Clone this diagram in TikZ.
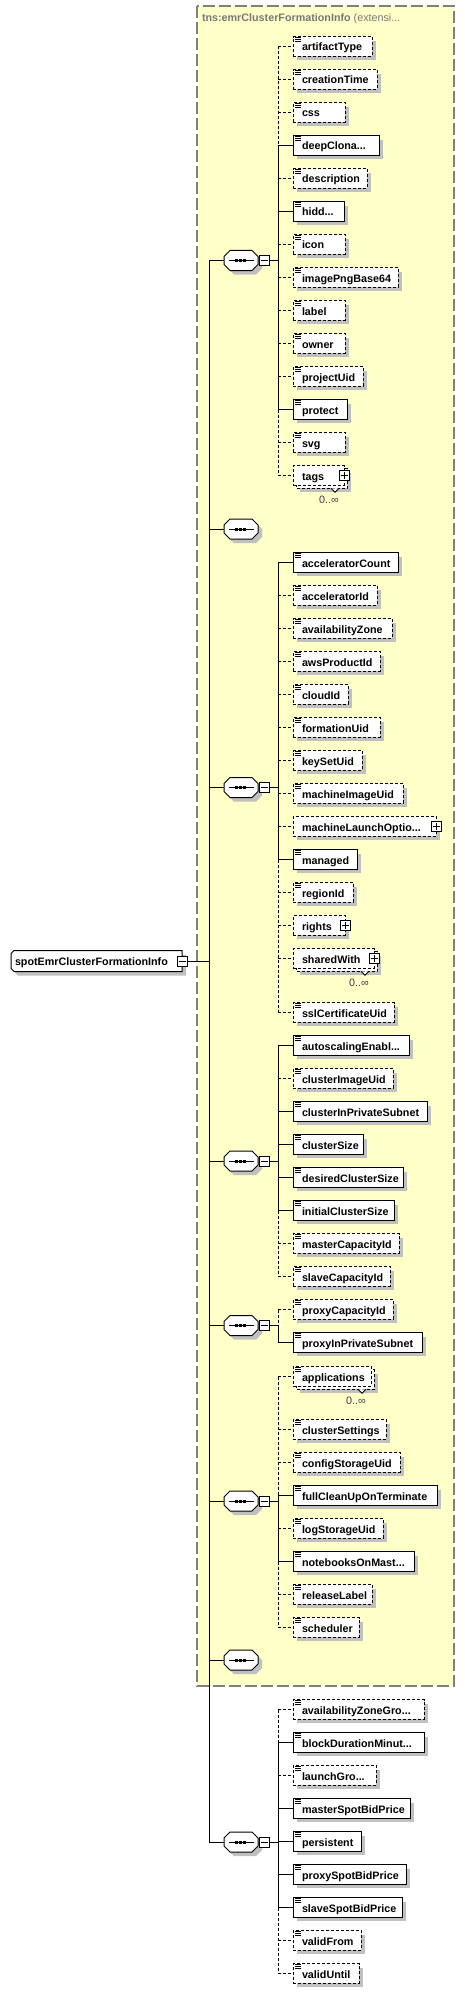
\documentclass[tikz,border=0pt]{standalone}
\usepackage{fontspec}
\setmainfont{Liberation Sans}
\definecolor{yel}{RGB}{255,255,200}
\definecolor{shadowc}{RGB}{192,192,192}
\definecolor{framegray}{RGB}{128,128,128}
\definecolor{titlegray}{RGB}{120,120,120}
\definecolor{multc}{RGB}{60,60,80}
\tikzset{
  x=1pt, y=-1pt,
  every node/.style={inner sep=0pt, outer sep=0pt},
  lbl/.style={font=\fontsize{10.75}{12}\selectfont\bfseries, text=black},
  multlbl/.style={font=\fontsize{10.75}{12}\selectfont, text=multc},
  boxreq/.style={rectangle, draw=black, line width=1pt, fill=white, minimum height=19.5pt},
  boxopt/.style={boxreq, dash pattern=on 3pt off 2pt},
  creq/.style={draw=black, line width=1pt},
  copt/.style={creq, dash pattern=on 3pt off 2pt},
  pm/.style={rectangle, draw=black, line width=0.8pt, fill=white, minimum width=10pt, minimum height=10pt},
  iconl/.style={line width=0.8pt},
  seqbase/.style={rectangle, minimum width=34pt, minimum height=20pt},
}
% plus / minus boxes
\newcommand{\PlusBox}[3]{%
  \node[pm] (#1) at (#2,#3) {};
  \draw[line width=0.8pt] ({#2-3.5},#3) -- ({#2+3.5},#3) (#2,{#3-3.5}) -- (#2,{#3+3.5});
}
\newcommand{\MinusBox}[3]{%
  \node[pm] (#1) at (#2,#3) {};
  \draw[line width=0.8pt] ({#2-3.5},#3) -- ({#2+3.5},#3);
}
\newcommand{\IconLines}[1]{%
  \draw[iconl] (295,{#1-8.75}) -- ++(5.5,0) (295,{#1-6.75}) -- ++(5.5,0) (295,{#1-4.75}) -- ++(5.5,0);
}
% simple element: name, y, right, text, req/opt
\newcommand{\El}[5]{%
  \fill[shadowc] (297,{#2-5.75}) rectangle ({#3+4},{#2+13.75});
  \node[box#5, minimum width={#3-293}, anchor=west] (#1) at (293,#2) {};
  \IconLines{#2}
  \node[lbl, anchor=base west] (#1-t) at (302,{#2+4.5}) {#4};
  \coordinate (j-#1) at (278,#2);
  \draw[c#5] (j-#1) -- (#1.west);
}
% complex optional element with plus box
\newcommand{\Cx}[4]{%
  \fill[shadowc] (297,{#2-5.75}) rectangle ({#3+4},{#2+13.75});
  \node[boxopt, minimum width={#3-293}, anchor=west] (#1) at (293,#2) {};
  \node[lbl, anchor=base west] (#1-t) at (302,{#2+4.5}) {#4};
  \PlusBox{#1-p}{#3}{#2}
  \coordinate (j-#1) at (278,#2);
  \draw[copt] (j-#1) -- (#1.west);
}
% multi-occurrence element: name, y, right(back), text, icon(1/0), plus(1/0)
\newcommand{\Mx}[6]{%
  \fill[shadowc] (300,{#2-2.75}) rectangle ({#3+4},{#2+16.75});
  \filldraw[fill=white, line width=1pt, dash pattern=on 3pt off 2pt] (296,{#2-6.75}) rectangle (#3,{#2+12.75});
  \filldraw[fill=white, line width=0.8pt] ({#3-16},{#2+12.75}) -- ({#3-12},{#2+16.75}) -- ({#3-8},{#2+12.75});
  \node[boxopt, minimum width={#3-3-293}, anchor=west] (#1) at (293,#2) {};
  \ifnum#5=1 \IconLines{#2}\fi
  \node[lbl, anchor=base west] (#1-t) at (302,{#2+4.5}) {#4};
  \ifnum#6=1 \PlusBox{#1-p}{#3-3}{#2}\fi
  \node[multlbl, anchor=base] (#1-m) at ({#3-18},{#2+27.5}) {0..∞};
  \coordinate (j-#1) at (278,#2);
  \draw[copt] (j-#1) -- (#1.west);
}
% sequence compositor: name, y, has minus (1/0)
\newcommand{\Sq}[3]{%
  \fill[shadowc] (234,{#2-6}) -- (256,{#2-6}) -- (262,{#2}) -- (262,{#2+8}) -- (256,{#2+14}) -- (234,{#2+14}) -- (228,{#2+8}) -- (228,{#2}) -- cycle;
  \node[seqbase] (#1) at (241,#2) {};
  \filldraw[fill=white, line width=1pt] (230,{#2-10}) -- (252,{#2-10}) -- (258,{#2-4}) -- (258,{#2+4}) -- (252,{#2+10}) -- (230,{#2+10}) -- (224,{#2+4}) -- (224,{#2-4}) -- cycle;
  \draw[line width=1pt] (229,#2) -- (254,#2);
  \fill (235.2,{#2-1.5}) rectangle ++(3,3);
  \fill (239.2,{#2-1.5}) rectangle ++(3,3);
  \fill (243.4,{#2-1.5}) rectangle ++(3,3);
  \coordinate (m-#1) at (209,#2);
  \draw[creq] (m-#1) -- (#1.west);
  \ifnum#3=1
    \MinusBox{#1-mb}{264}{#2}
    \coordinate (j-#1) at (278,#2);
    \draw[creq] (#1-mb.east) -- (j-#1);
  \fi
}
\begin{document}
\begin{tikzpicture}
\useasboundingbox (0,0) rectangle (465,1993);
% extension frame
\filldraw[fill=yel, draw=framegray, line width=1.2pt, dash pattern=on 12pt off 4pt] (197,6) rectangle (454,1686);
\node[anchor=base west, text=titlegray, font=\fontsize{10.75}{12}\selectfont] (title) at (202,21.5) {\bfseries tns:emrClusterFormationInfo \mdseries(extensi...};

% root
\fill[shadowc] (18,954.5) -- (186,954.5) -- (186,975.5) -- (18,975.5) -- (15,972.5) -- (15,957.5) -- cycle;
\node[rectangle, minimum width=171pt, minimum height=21pt] (root) at (96.5,961) {};
\filldraw[fill=white, line width=1pt] (14,950.5) -- (182,950.5) -- (182,971.5) -- (14,971.5) -- (11,968.5) -- (11,953.5) -- cycle;
\node[lbl, anchor=base west] (root-t) at (15,965.5) {spotEmrClusterFormationInfo};
\MinusBox{root-mb}{182}{961}
\coordinate (m-root) at (209,961);
\draw[creq] (root-mb.east) -- (m-root);

% sequences
\Sq{seq1}{260.5}{1}
\Sq{seq2}{529}{0}
\Sq{seq3}{787.5}{1}
\Sq{seq4}{1161}{1}
\Sq{seq5}{1325.5}{1}
\Sq{seq6}{1501}{1}
\Sq{seq7}{1660}{0}
\Sq{seq8}{1842}{1}
\draw[creq] (m-seq1) -- (m-seq8);

% group 1
\El{artifactType}{46.5}{372}{artifactType}{opt}
\El{creationTime}{79.5}{377}{creationTime}{opt}
\El{css}{112.5}{345}{css}{opt}
\El{deepClona}{145.5}{379}{deepClona...}{req}
\El{description}{178.5}{367}{description}{opt}
\El{hidd}{211.5}{344}{hidd...}{req}
\El{icon}{244.5}{345}{icon}{opt}
\El{imagePngBase64}{277.5}{398}{imagePngBase64}{opt}
\El{label}{310.5}{345}{label}{opt}
\El{owner}{343.5}{345}{owner}{opt}
\El{projectUid}{376.5}{363}{projectUid}{opt}
\El{protect}{409.5}{347}{protect}{req}
\El{svg}{442.5}{345}{svg}{opt}
\Mx{tags}{475.5}{347}{tags}{0}{1}
\draw[copt] (j-artifactType) -- (j-deepClona);
\draw[creq] (j-deepClona) -- (j-protect);
\draw[copt] (j-protect) -- (j-tags);

% group 3
\El{acceleratorCount}{562.5}{398}{acceleratorCount}{req}
\El{acceleratorId}{595.5}{377}{acceleratorId}{opt}
\El{availabilityZone}{628.5}{392}{availabilityZone}{opt}
\El{awsProductId}{661.5}{380}{awsProductId}{opt}
\El{cloudId}{694.5}{348}{cloudId}{opt}
\El{formationUid}{727.5}{380}{formationUid}{opt}
\El{keySetUid}{760.5}{362}{keySetUid}{opt}
\El{machineImageUid}{793.5}{403}{machineImageUid}{opt}
\Cx{machineLaunchOptio}{826.5}{436}{machineLaunchOptio...}
\El{managed}{859.5}{357}{managed}{req}
\El{regionId}{892.5}{353}{regionId}{opt}
\Cx{rights}{925.5}{345}{rights}
\Mx{sharedWith}{958.5}{377}{sharedWith}{0}{1}
\El{sslCertificateUid}{1012.5}{394}{sslCertificateUid}{opt}
\draw[creq] (j-acceleratorCount) -- (j-managed);
\draw[copt] (j-managed) -- (j-sslCertificateUid);

% group 4
\El{autoscalingEnabl}{1045.5}{409}{autoscalingEnabl...}{req}
\El{clusterImageUid}{1078.5}{393}{clusterImageUid}{opt}
\El{clusterInPrivateSubnet}{1111.5}{427}{clusterInPrivateSubnet}{req}
\El{clusterSize}{1144.5}{363}{clusterSize}{req}
\El{desiredClusterSize}{1177.5}{403}{desiredClusterSize}{req}
\El{initialClusterSize}{1210.5}{394}{initialClusterSize}{req}
\El{masterCapacityId}{1243.5}{399}{masterCapacityId}{opt}
\El{slaveCapacityId}{1276.5}{390}{slaveCapacityId}{opt}
\draw[creq] (j-autoscalingEnabl) -- (j-initialClusterSize);
\draw[copt] (j-initialClusterSize) -- (j-slaveCapacityId);

% group 5
\El{proxyCapacityId}{1309.5}{393}{proxyCapacityId}{opt}
\El{proxyInPrivateSubnet}{1342.5}{422}{proxyInPrivateSubnet}{req}
\draw[copt] (j-proxyCapacityId) -- (j-seq5);
\draw[creq] (j-seq5) -- (j-proxyInPrivateSubnet);

% group 6
\Mx{applications}{1376.5}{374}{applications}{1}{0}
\El{clusterSettings}{1429.5}{386}{clusterSettings}{opt}
\El{configStorageUid}{1462.5}{400}{configStorageUid}{opt}
\El{fullCleanUpOnTerminate}{1495.5}{437}{fullCleanUpOnTerminate}{req}
\El{logStorageUid}{1528.5}{383}{logStorageUid}{opt}
\El{notebooksOnMast}{1561.5}{414}{notebooksOnMast...}{req}
\El{releaseLabel}{1594.5}{372}{releaseLabel}{opt}
\El{scheduler}{1627.5}{359}{scheduler}{opt}
\draw[copt] (j-applications) -- (j-fullCleanUpOnTerminate);
\draw[creq] (j-fullCleanUpOnTerminate) -- (j-notebooksOnMast);
\draw[copt] (j-notebooksOnMast) -- (j-scheduler);

% group 8
\El{availabilityZoneGro}{1709.5}{424}{availabilityZoneGro...}{opt}
\El{blockDurationMinut}{1742.5}{424}{blockDurationMinut...}{req}
\El{launchGro}{1775.5}{376}{launchGro...}{opt}
\El{masterSpotBidPrice}{1808.5}{410}{masterSpotBidPrice}{req}
\El{persistent}{1841.5}{361}{persistent}{req}
\El{proxySpotBidPrice}{1874.5}{406}{proxySpotBidPrice}{req}
\El{slaveSpotBidPrice}{1907.5}{402}{slaveSpotBidPrice}{req}
\El{validFrom}{1940.5}{361}{validFrom}{opt}
\El{validUntil}{1973.5}{359}{validUntil}{opt}
\draw[copt] (j-availabilityZoneGro) -- (j-blockDurationMinut);
\draw[creq] (j-blockDurationMinut) -- (j-slaveSpotBidPrice);
\draw[copt] (j-slaveSpotBidPrice) -- (j-validUntil);
\end{tikzpicture}
\end{document}
